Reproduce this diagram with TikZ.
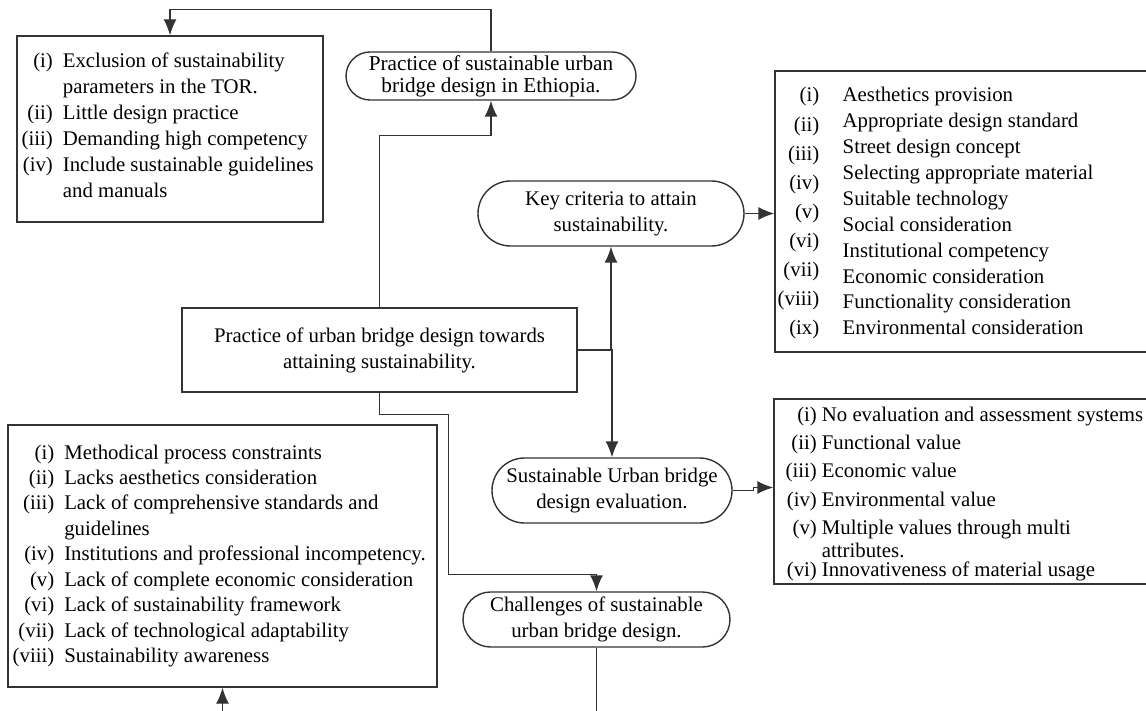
\documentclass[tikz,border=0pt]{standalone}
\usepackage{fontspec}
\setmainfont{Liberation Serif}
\usetikzlibrary{shapes.misc,arrows.meta}

\tikzset{
  box/.style={draw=black!80,inner sep=0pt},
  pill/.style={draw=black!80,rounded rectangle,inner sep=0pt,align=center},
  txt/.style={inner sep=0pt},
  arr/.style={draw=black!80,-{Latex[length=8pt,width=6.5pt]}},
}

\begin{document}
\begin{tikzpicture}[x=0.5pt,y=-0.5pt,line width=0.7pt,font=\fontsize{10.4pt}{13pt}\selectfont]
\useasboundingbox (0,0) rectangle (1146,711);
\clip (0,0) rectangle (1146,711);

% boxes
\node[box,minimum width=153pt,minimum height=93pt] (tor) at (170,129) {};
\node[box,minimum width=197.5pt,minimum height=42pt,align=center] (main) at (379.5,350)
  {Practice of urban bridge design towards\\attaining sustainability.};
\node[box,minimum width=212.5pt,minimum height=140.5pt] (crit) at (987.5,211.5) {};
\node[box,minimum width=213pt,minimum height=92.5pt] (evallist) at (987,491.5) {};
\node[box,minimum width=214.5pt,minimum height=131pt] (clist) at (222.5,556) {};

% rounded nodes
\node[pill,minimum width=145pt,minimum height=24pt,font=\fontsize{10.6pt}{11pt}\selectfont] (eth) at (491,76)
  {Practice of sustainable urban\\bridge design in Ethiopia.};
\node[pill,minimum width=133pt,minimum height=32.5pt] (key) at (611,213.5)
  {Key criteria to attain\\sustainability.};
\node[pill,minimum width=120pt,minimum height=32.5pt] (eval) at (612,490.5)
  {Sustainable Urban bridge\\design evaluation.};
\node[pill,minimum width=133.5pt,minimum height=27.5pt] (chal) at (596.5,619.5)
  {Challenges of sustainable\\urban bridge design.};

% list texts
\node[txt,anchor=base west] (tor-txt) at (21,68) {\begin{tabular}[t]{@{}r@{\hspace{5pt}}l@{}}
(i) & Exclusion of sustainability\\
 & parameters in the TOR.\\
(ii) & Little design practice\\
(iii) & Demanding high competency\\
(iv) & Include sustainable guidelines\\
 & and manuals
\end{tabular}};

\node[txt,anchor=base east] (crit-num) at (820,102) {\renewcommand\arraystretch{1.12}\begin{tabular}[t]{@{}r@{}}
(i)\\(ii)\\(iii)\\(iv)\\(v)\\(vi)\\(vii)\\(viii)\\(ix)
\end{tabular}};
\node[txt,anchor=base west] (crit-txt) at (842,102) {\renewcommand\arraystretch{0.995}\begin{tabular}[t]{@{}l@{}}
Aesthetics provision\\
Appropriate design standard\\
Street design concept\\
Selecting appropriate material\\
Suitable technology\\
Social consideration\\
Institutional competency\\
Economic consideration\\
Functionality consideration\\
Environmental consideration
\end{tabular}};

\node[txt,anchor=base west] (eval-txt) at (785,421) {\renewcommand\arraystretch{1.096}\begin{tabular}[t]{@{}r@{\hspace{2.5pt}}l@{}}
(i) & No evaluation and assessment systems\\
(ii) & Functional value\\
(iii) & Economic value\\
(iv) & Environmental value\\
(v) & Multiple values through multi\\[-2.75pt]
 & attributes.\\[-4.75pt]
(vi) & Innovativeness of material usage
\end{tabular}};

\node[txt,anchor=base west] (chal-txt) at (12,459) {\renewcommand\arraystretch{0.98}\begin{tabular}[t]{@{}r@{\hspace{5pt}}l@{}}
(i) & Methodical process constraints\\
(ii) & Lacks aesthetics consideration\\
(iii) & Lack of comprehensive standards and\\
 & guidelines\\
(iv) & Institutions and professional incompetency.\\
(v) & Lack of complete economic consideration\\
(vi) & Lack of sustainability framework\\
(vii) & Lack of technological adaptability\\
(viii) & Sustainability awareness
\end{tabular}};

% connectors
\draw[arr] (eth.north) -- ++(0,-42) -| (tor.north);
\draw[arr] (main.north) -- ++(0,-172) -| (eth.south);
\draw[arr] (main.east) -| (key.south);
\draw[arr] (main.east) -| (eval.north);
\draw[arr] (key.east) -- (key.east -| crit.west);
\draw[arr] (eval.east) -- ++(21,0) |- ([yshift=2pt]evallist.west);
\draw[arr] (main.south) -- ++(0,22) -| ++(69,160) -| (chal.north);
\draw[arr] (chal.south) -- ++(0,100) -| (clist.south);
\end{tikzpicture}
\end{document}
